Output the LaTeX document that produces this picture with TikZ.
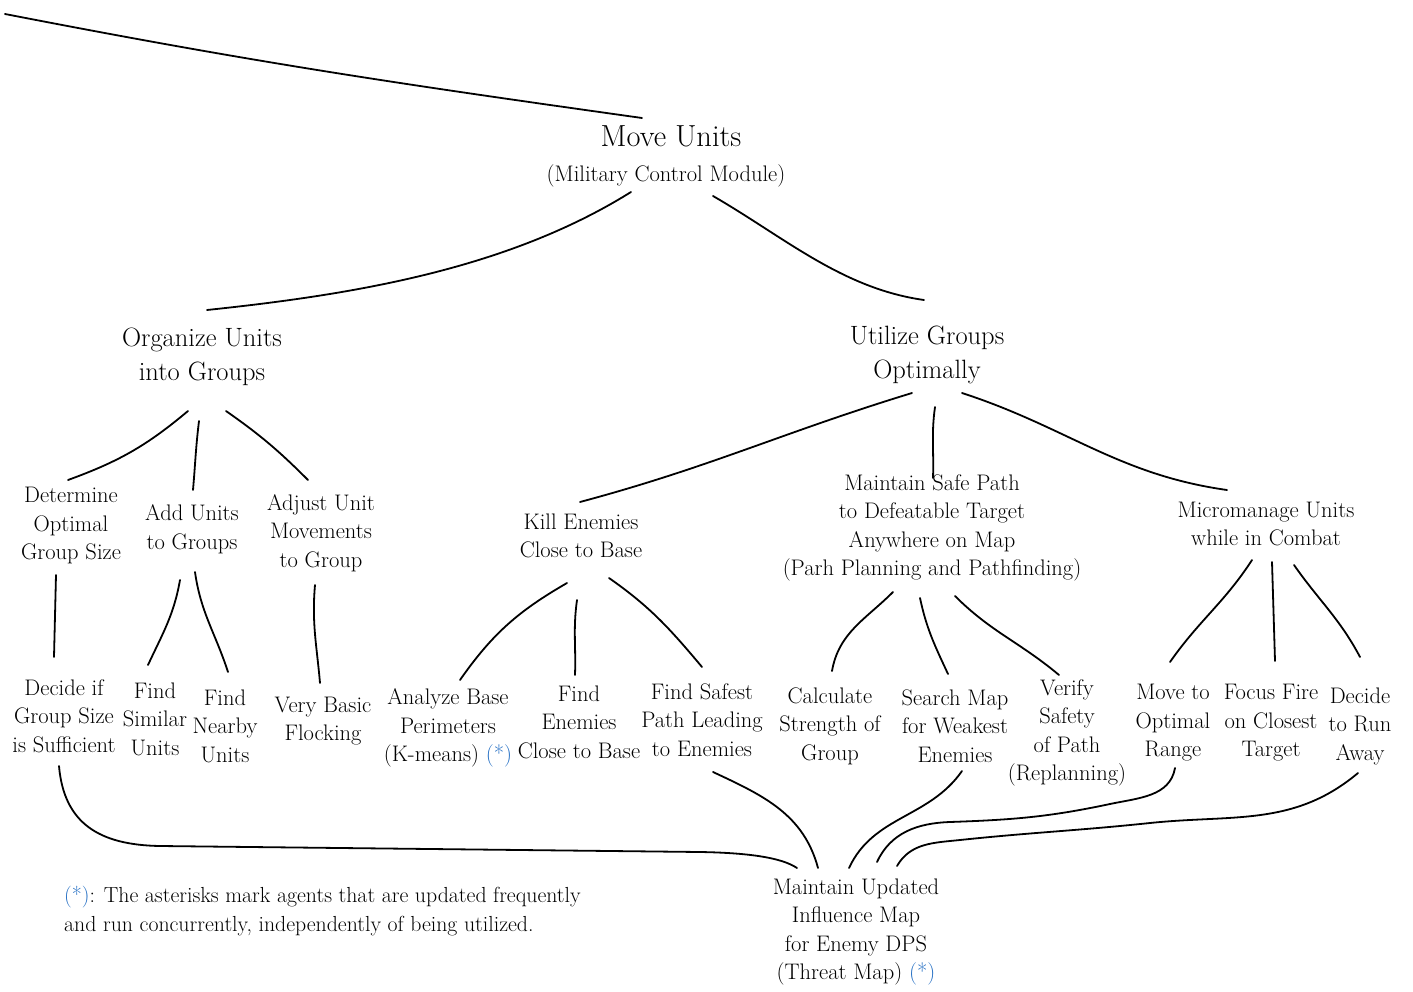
\documentclass[tikz,border=0pt]{standalone}
\usetikzlibrary{calc}
\definecolor{astblue}{RGB}{35,110,195}
\newcommand{\starmark}{\textcolor{astblue}{(*)}}
\begin{document}
\begin{tikzpicture}[x=1pt,y=1pt,
  lbl/.style={align=center, inner sep=0pt, font=\fontsize{22.5}{28.5}\selectfont},
  bigl/.style={align=center, inner sep=0pt, font=\fontsize{26.5}{34}\selectfont},
  hugel/.style={align=center, inner sep=0pt, font=\fontsize{30.5}{36}\selectfont},
  notel/.style={align=left, inner sep=0pt, font=\fontsize{21.8}{28.5}\selectfont},
  edge/.style={line width=1.8pt, line cap=round}]
\useasboundingbox (0,0) rectangle (1413,-992);

% root
\node[hugel] (move) at (671,-136) {Move Units};
\node[lbl] (movesub) at (666,-176) {(Military Control Module)};
\coordinate (up) at (5,-14);

% second level
\node[bigl] (org) at (202,-357) {Organize Units\\into Groups};
\node[bigl] (util) at (927,-355) {Utilize Groups\\Optimally};

% third level
\node[lbl] (det) at (71,-526) {Determine\\Optimal\\Group Size};
\node[lbl] (add) at (192,-529) {Add Units\\to Groups};
\node[lbl] (adj) at (321,-533) {Adjust Unit\\Movements\\to Group};
\node[lbl] (kill) at (581,-536) {Kill Enemies\\Close to Base};
\node[lbl] (safe) at (932,-528) {Maintain Safe Path\\to Defeatable Target\\Anywhere on Map\\(Parh Planning and Pathfinding)};
\node[lbl] (micro) at (1266,-524) {Micromanage Units\\while in Combat};

% leaves
\node[lbl] (dec) at (64,-716) {Decide if\\Group Size\\is Sufficient};
\node[lbl] (sim) at (155,-719) {Find\\Similar\\Units};
\node[lbl] (near) at (225,-726) {Find\\Nearby\\Units};
\node[lbl] (flock) at (323,-721) {Very Basic\\Flocking};
\node[lbl] (anal) at (448,-728) {Analyze Base\\Perimeters\\(K-means) \starmark};
\node[lbl] (findE) at (579,-722) {Find\\Enemies\\Close to Base};
\node[lbl] (safest) at (702,-720) {Find Safest\\Path Leading\\to Enemies};
\node[lbl] (calcs) at (830,-726) {Calculate\\Strength of\\Group};
\node[lbl] (search) at (955,-726) {Search Map\\for Weakest\\Enemies};
\node[lbl] (verify) at (1067,-733) {Verify\\Safety\\of Path\\(Replanning)};
\node[lbl] (moveto) at (1173,-723) {Move to\\Optimal\\Range};
\node[lbl] (focus) at (1271,-723) {Focus Fire\\on Closest\\Target};
\node[lbl] (run) at (1360,-726) {Decide\\to Run\\Away};

% shared influence map
\node[lbl] (threat) at (856,-932) {Maintain Updated\\Influence Map\\for Enemy DPS\\(Threat Map) \starmark};

% footnote
\node[notel, anchor=west] (note) at (64,-911) {\starmark: The asterisks mark agents that are updated frequently\\and run concurrently, independently of being utilized.};

% tree edges
\draw[edge] (up) to[out=-11,in=172] ($(move)+(-29,18)$);
\draw[edge] ($(movesub)+(-35,-16)$) to[out=-148,in=6,looseness=0.85] ($(org)+(5,47)$);
\draw[edge] ($(movesub)+(47,-20)$) to[out=-30,in=172,looseness=0.9] ($(util)+(-3,55)$);

\draw[edge] ($(org)+(-14,-54)$) to[out=-140,in=20] ($(det)+(-3,46)$);
\draw[edge] ($(org)+(-3,-64)$) to[out=-97,in=85] ($(add)+(1,39)$);
\draw[edge] ($(org)+(24,-54)$) to[out=-35,in=135] ($(adj)+(-13,53)$);

\draw[edge] ($(det)+(-15,-49)$) -- ($(dec)+(-10,59)$);
\draw[edge] ($(add)+(-12,-51)$) to[out=-100,in=65] ($(sim)+(-7,54)$);
\draw[edge] ($(add)+(3,-43)$) to[out=-82,in=108] ($(near)+(3,54)$);
\draw[edge] ($(adj)+(-6,-52)$) to[out=-95,in=95] ($(flock)+(-3,38)$);

\draw[edge] ($(util)+(-15,-38)$) to[out=-163,in=15] ($(kill)+(-1,34)$);
\draw[edge] ($(util)+(8,-52)$) to[out=-98,in=88] ($(safe)+(1,50)$);
\draw[edge] ($(util)+(35,-38)$) to[out=-18,in=172] ($(micro)+(-39,34)$);

\draw[edge] ($(kill)+(-14,-47)$) to[out=-150,in=55] ($(anal)+(12,48)$);
\draw[edge] ($(kill)+(-4,-64)$) to[out=-98,in=88] ($(findE)+(-4,47)$);
\draw[edge] ($(kill)+(28,-42)$) to[out=-35,in=130] ($(safest)+(0,53)$);

\draw[edge] ($(safe)+(-39,-64)$) to[out=-135,in=80] ($(calcs)+(2,55)$);
\draw[edge] ($(safe)+(-12,-70)$) to[out=-78,in=115] ($(search)+(-7,52)$);
\draw[edge] ($(safe)+(23,-68)$) to[out=-45,in=140] ($(verify)+(-8,58)$);

\draw[edge] ($(micro)+(-14,-36)$) to[out=-123,in=55] ($(moveto)+(-3,61)$);
\draw[edge] ($(micro)+(6,-38)$) -- ($(focus)+(4,62)$);
\draw[edge] ($(micro)+(28,-41)$) to[out=-55,in=118] ($(run)+(0,69)$);

% edges into the influence map
\draw[edge] ($(dec)+(-5,-50)$) .. controls +(5,-58) and +(-60,1) .. (160,-846)
  -- (700,-852) .. controls +(60,-1) and +(-12,8) .. ($(threat)+(-59,64)$);
\draw[edge] ($(safest)+(11,-52)$) to[out=-25,in=105] ($(threat)+(-38,64)$);
\draw[edge] ($(search)+(7,-45)$) to[out=-125,in=65] ($(threat)+(-7,64)$);
\draw[edge] ($(moveto)+(2,-45)$) to[out=-100,in=12] (1110,-804)
  to[out=192,in=2] (950,-822) to[out=182,in=65] ($(threat)+(21,70)$);
\draw[edge] ($(run)+(-2,-47)$) to[out=-140,in=6] (1150,-823)
  to[out=186,in=6] (960,-840) to[out=186,in=60] ($(threat)+(41,66)$);
\end{tikzpicture}
\end{document}
